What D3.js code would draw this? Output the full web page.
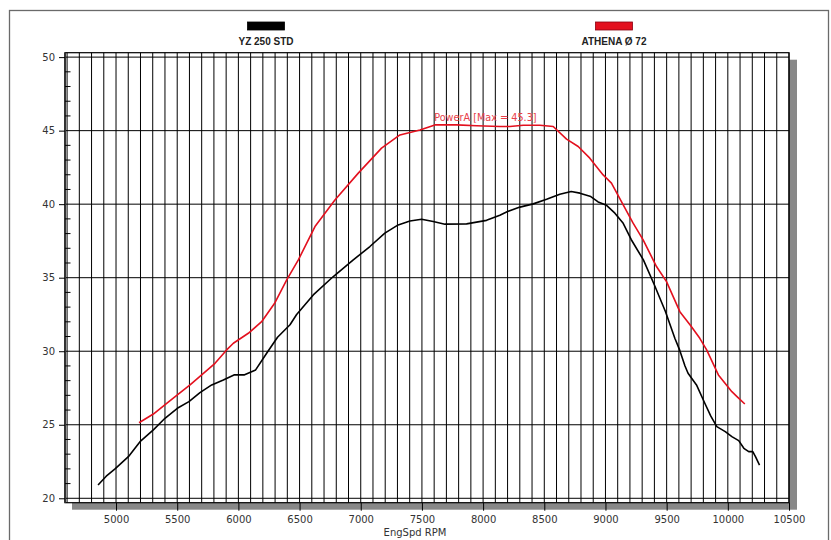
<!DOCTYPE html>
<html>
<head>
<meta charset="utf-8">
<script src="https://cdn.jsdelivr.net/npm/d3@7/dist/d3.min.js"></script>
<style>
  html, body { margin: 0; padding: 0; background: #fff; }
  svg { display: block; }
</style>
</head>
<body>
<svg id="chart" width="831" height="540"></svg>
<script>
// ---- data ----
const seriesNames = ["YZ 250 STD", "ATHENA Ø 72"];
const seriesColors = ["#000000", "#e3101e"];

const yzRpm = [4853,4920,4992,5101,5196,5305,5400,5501,5596,5686,5782,5877,5964,6046,6141,6231,6320,6422,6476,6612,6776,6939,7075,7197,7306,7402,7497,7592,7688,7865,8028,8137,8200,8301,8410,8519,8627,8720,8791,8880,8940,9009,9077,9145,9210,9310,9400,9490,9567,9606,9650,9675,9744,9812,9860,9910,9979,10033,10089,10131,10171,10204,10226,10259];
const yzPower = [20.9,21.5,22.0,22.83,23.85,24.65,25.44,26.12,26.57,27.18,27.71,28.05,28.39,28.39,28.73,29.86,30.95,31.8,32.5,33.83,35.08,36.21,37.12,38.03,38.59,38.86,38.98,38.82,38.64,38.66,38.9,39.25,39.5,39.8,40.02,40.34,40.68,40.86,40.75,40.52,40.15,39.92,39.39,38.7,37.6,36.21,34.5,32.7,30.88,30.09,29.0,28.5,27.71,26.46,25.6,24.87,24.53,24.19,23.92,23.4,23.17,23.17,22.83,22.26];

const athRpm = [5188,5305,5414,5509,5605,5700,5809,5904,5959,6081,6190,6299,6395,6490,6626,6789,6980,7170,7320,7484,7606,7783,7946,8137,8219,8328,8464,8573,8682,8777,8872,8981,9049,9145,9226,9308,9417,9499,9608,9700,9771,9827,9923,10033,10075,10139];
const athPower = [25.14,25.73,26.46,27.09,27.71,28.39,29.18,30.09,30.54,31.22,32.01,33.3,34.85,36.21,38.48,40.29,42.11,43.81,44.71,45.05,45.39,45.39,45.33,45.28,45.28,45.37,45.37,45.28,44.42,43.92,43.13,41.99,41.43,39.95,38.71,37.57,35.76,34.73,32.69,31.7,30.88,30.09,28.39,27.25,26.91,26.41];

const xTicks = [5000,5500,6000,6500,7000,7500,8000,8500,9000,9500,10000,10500];
const yTicks = [20,25,30,35,40,45,50];
const xTitle = "EngSpd RPM";
const maxLabel = "PowerA [Max = 45.3]";
const maxLabelRpm = 7600;
const maxLabelValue = 45.3;

// ---- layout ----
const svg = d3.select("#chart");
const L = 65, R = 789, T = 52.7, B = 502.7;
const x = d3.scaleLinear().domain([4583, 10500]).range([L, R]);
const y = d3.scaleLinear().domain([19.7, 50.3]).range([B, T]);

// outer frame
svg.append("rect").attr("x", 9.5).attr("y", 10.5).attr("width", 819).attr("height", 545)
  .attr("fill", "none").attr("stroke", "#6a6a6a").attr("stroke-width", 1.3);

// shadow
svg.append("rect").attr("x", L + 7).attr("y", T + 7).attr("width", R - L + 1).attr("height", B - T)
  .attr("fill", "#888");
svg.append("rect").attr("x", L).attr("y", T).attr("width", R - L).attr("height", B - T)
  .attr("fill", "#fff");

// vertical grid every 100 rpm
const vGrid = d3.range(4600, 10501, 100);
svg.append("g").selectAll("line").data(vGrid).join("line")
  .attr("x1", d => x(d)).attr("x2", d => x(d))
  .attr("y1", T).attr("y2", B)
  .attr("stroke", "#000").attr("stroke-width", 1);

// horizontal grid
svg.append("g").selectAll("line").data(yTicks).join("line")
  .attr("x1", L).attr("x2", R)
  .attr("y1", d => y(d)).attr("y2", d => y(d))
  .attr("stroke", "#000").attr("stroke-width", 1);

// plot border
svg.append("rect").attr("x", L).attr("y", T).attr("width", R - L).attr("height", B - T)
  .attr("fill", "none").attr("stroke", "#000").attr("stroke-width", 1.2);
svg.append("line").attr("x1", L).attr("x2", L).attr("y1", T).attr("y2", B)
  .attr("stroke", "#333").attr("stroke-width", 2);

// y minor ticks (inward)
const yMinor = d3.range(20, 50.01, 1).filter(v => v % 5 !== 0);
svg.append("g").selectAll("line").data(yMinor).join("line")
  .attr("x1", L).attr("x2", L + 5.5)
  .attr("y1", d => y(d)).attr("y2", d => y(d))
  .attr("stroke", "#000").attr("stroke-width", 1);

// y axis (major ticks outward + labels)
const yAxis = d3.axisLeft(y).tickValues(yTicks).tickSize(6).tickPadding(4).tickFormat(d3.format("d"));
const gy = svg.append("g").attr("transform", `translate(${L},0)`).call(yAxis);
gy.select(".domain").remove();
gy.selectAll(".tick line").attr("stroke", "#000");
gy.selectAll(".tick text").attr("fill", "#333").style("font-family", "DejaVu Sans, Verdana, sans-serif").style("font-size", "10px");

// x axis
const xAxis = d3.axisBottom(x).tickValues(xTicks).tickSize(8).tickPadding(5).tickFormat(d3.format("d"));
const gx = svg.append("g").attr("transform", `translate(0,${B})`).call(xAxis);
gx.select(".domain").remove();
gx.selectAll(".tick line").attr("stroke", "#000");
gx.selectAll(".tick text").attr("fill", "#333").style("font-family", "DejaVu Sans, Verdana, sans-serif").style("font-size", "10px");

svg.append("text").attr("x", 415).attr("y", 536).attr("text-anchor", "middle")
  .attr("fill", "#333").style("font-family", "DejaVu Sans, Verdana, sans-serif").style("font-size", "10px")
  .text(xTitle);

// lines
const line = d3.line().x(d => x(d[0])).y(d => y(d[1]));
const series = [d3.zip(yzRpm, yzPower), d3.zip(athRpm, athPower)];
svg.append("g").selectAll("path").data(series).join("path")
  .attr("d", line)
  .attr("fill", "none")
  .attr("stroke", (d, i) => seriesColors[i])
  .attr("stroke-width", 1.6)
  .attr("stroke-linejoin", "round");

// max label
svg.append("text").attr("x", x(maxLabelRpm)).attr("y", y(maxLabelValue) - 5)
  .attr("fill", "#e8404a").style("font-family", "DejaVu Sans, Verdana, sans-serif").style("font-size", "9.7px")
  .text(maxLabel);

// legend
const legendX = [266, 614];
seriesNames.forEach((name, i) => {
  svg.append("rect").attr("x", legendX[i] - 18.5).attr("y", 22).attr("width", 37).attr("height", 8)
    .attr("fill", seriesColors[i]).attr("stroke", i === 0 ? "#000" : "#8a0010").attr("stroke-width", 0.8);
  svg.append("text").attr("x", legendX[i]).attr("y", 44.5).attr("text-anchor", "middle")
    .attr("fill", "#222").style("font-family", "Liberation Sans, Arial, sans-serif")
    .style("font-size", "10px").style("font-weight", "bold").text(name);
});
</script>
</body>
</html>
